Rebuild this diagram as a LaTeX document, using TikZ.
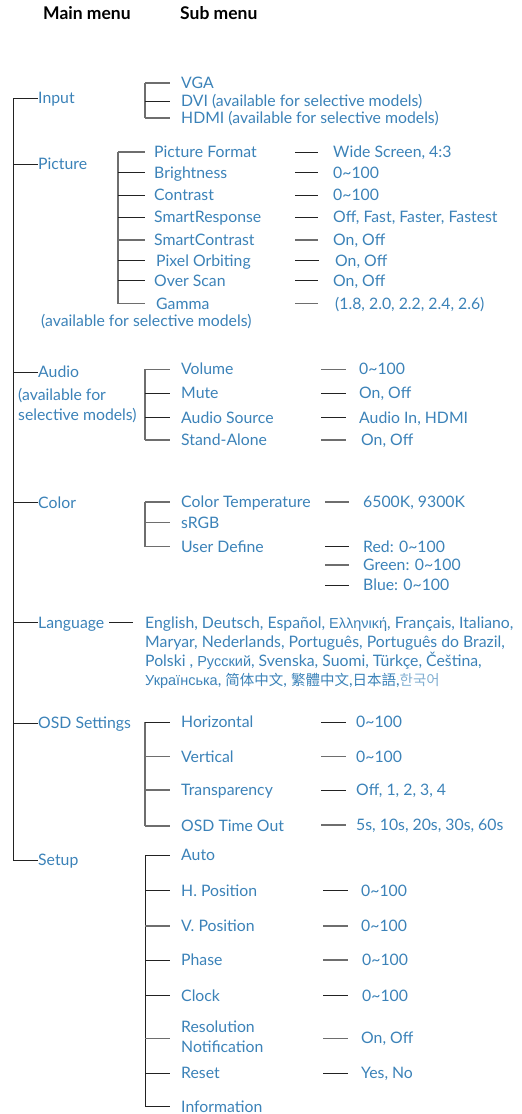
\documentclass[tikz,border=0pt]{standalone}
\usepackage{fontspec}
\setmainfont{Lato}
\newfontfamily\cyr{Liberation Sans}
\newfontfamily\zh{Noto Sans CJK SC}
\newfontfamily\ko{Noto Sans CJK KR}
\usetikzlibrary{calc}
\definecolor{tb}{HTML}{3B82B8}
\definecolor{dk}{HTML}{222222}
\definecolor{gr}{HTML}{6E6E6E}
\newcommand\oth[1]{{\cyr\fontsize{14.5}{16}\selectfont #1}}
\newcommand\cjk[1]{{\zh\fontsize{14.5}{16}\selectfont #1}}
\begin{document}
\begin{tikzpicture}[x=1pt,y=-1pt,
  t/.style={anchor=west, inner sep=0pt, text height=11.3pt, text depth=0pt, font=\fontsize{15.8}{18}\selectfont, text=tb},
  t2/.style={anchor=west, inner sep=0pt, align=left, font=\fontsize{15.8}{20}\selectfont, text=tb},
  hd/.style={anchor=west, inner sep=0pt, text height=12pt, text depth=0pt, font=\fontsize{17.5}{19}\selectfont\bfseries, text=black},
  ln/.style={draw=dk, line width=0.9pt},
  lg/.style={draw=gr, line width=1.1pt}]
\useasboundingbox (0,0) rectangle (522,1114);

% headers
\node[hd] (hmain) at (43,13) {Main menu};
\node[hd] (hsub) at (180,13) {Sub menu};

% main menu
\node[t] (input) at (38,98) {Input};
\node[t] (picture) at (38,164) {Picture};
\node[t] (picnote) at (41,321) {(available for selective models)};
\node[t] (audio) at (38,372) {Audio};
\node[t] (audnote1) at (18,395) {(available for};
\node[t] (audnote2) at (18,415) {selective models)};
\node[t] (color) at (38,502.5) {Color};
\node[t] (language) at (38,622.5) {Language};
\node[t] (osd) at (38,723) {OSD Settings};
\node[t] (setup) at (38,860) {Setup};

\coordinate (m) at (13,98);
\draw[ln] (m |- input.west) -- (m |- setup.west) -- (setup.west);
\foreach \n in {input,picture,audio,color,language,osd}
  \draw[ln] (m |- \n.west) -- (\n.west);

% ---------- Input
\coordinate (bI) at (145,0);
\node[t] (vga) at (181,83) {VGA};
\node[t] (dvi) at (181,101) {DVI (available for selective models)};
\node[t] (hdmi) at (181,118) {HDMI (available for selective models)};
\draw[lg] (bI |- vga.west) -- (bI |- hdmi.west);
\draw[lg,shorten >=11pt] (bI |- vga.west) -- (vga.west);
\draw[ln,shorten >=11pt] (bI |- dvi.west) -- (dvi.west);
\draw[lg,shorten >=11pt] (bI |- hdmi.west) -- (hdmi.west);

% ---------- Picture
\coordinate (bP) at (118,0);
\coordinate (vP) at (295,0);
\node[t] (pf) at (154,152) {Picture Format};
\node[t] (br) at (154,172.7) {Brightness};
\node[t] (co) at (154,195) {Contrast};
\node[t] (sr) at (154,217.3) {SmartResponse};
\node[t] (sc) at (154,240) {SmartContrast};
\node[t] (po) at (156,260.7) {Pixel Orbiting};
\node[t] (os) at (154,280.7) {Over Scan};
\node[t] (ga) at (156,303.7) {Gamma};
\node[t] (pfv) at (333,152) {Wide Screen, 4:3};
\node[t] (brv) at (333,172.7) {0\char"007E 100};
\node[t] (cov) at (333,195) {0\char"007E 100};
\node[t] (srv) at (333,217.3) {Off, Fast, Faster, Fastest};
\node[t] (scv) at (333,240) {On, Off};
\node[t] (pov) at (335,260.7) {On, Off};
\node[t] (osv) at (333,280.7) {On, Off};
\node[t] (gav) at (335,303.7) {(1.8, 2.0, 2.2, 2.4, 2.6)};
\draw[lg] (bP |- pf.west) -- (bP |- ga.west);
\draw[lg,shorten >=9pt] (bP |- pf.west) -- (pf.west);
\draw[ln,shorten >=9pt] (bP |- br.west) -- (br.west);
\draw[ln,shorten >=9pt] (bP |- co.west) -- (co.west);
\draw[ln,shorten >=9pt] (bP |- sr.west) -- (sr.west);
\draw[lg,shorten >=9pt] (bP |- sc.west) -- (sc.west);
\draw[ln,shorten >=11pt] (bP |- po.west) -- (po.west);
\draw[ln,shorten >=9pt] (bP |- os.west) -- (os.west);
\draw[lg,shorten >=11pt] (bP |- ga.west) -- (ga.west);
\draw[ln,shorten >=15pt] (vP |- pfv.west) -- (pfv.west);
\draw[ln,shorten >=15pt] (vP |- brv.west) -- (brv.west);
\draw[ln,shorten >=15pt] (vP |- cov.west) -- (cov.west);
\draw[ln,shorten >=15pt] (vP |- srv.west) -- (srv.west);
\draw[lg,shorten >=15pt] (vP |- scv.west) -- (scv.west);
\draw[ln,shorten >=16pt] (vP |- pov.west) -- (pov.west);
\draw[ln,shorten >=15pt] (vP |- osv.west) -- (osv.west);
\draw[lg,shorten >=17pt] (vP |- gav.west) -- (gav.west);

% ---------- Audio
\coordinate (bA) at (145,0);
\coordinate (vA) at (321,0);
\node[t] (vol) at (181,369.3) {Volume};
\node[t] (mute) at (181,393.3) {Mute};
\node[t] (asrc) at (181,417.7) {Audio Source};
\node[t] (sa) at (181,440) {Stand-Alone};
\node[t] (volv) at (359,369.3) {0\char"007E 100};
\node[t] (mutev) at (359,393.3) {On, Off};
\node[t] (asrcv) at (359,417.7) {Audio In, HDMI};
\node[t] (sav) at (361,440) {On, Off};
\draw[lg] (bA |- vol.west) -- (bA |- sa.west);
\draw[lg,shorten >=11pt] (bA |- vol.west) -- (vol.west);
\draw[ln,shorten >=11pt] (bA |- mute.west) -- (mute.west);
\draw[ln,shorten >=11pt] (bA |- asrc.west) -- (asrc.west);
\draw[lg,shorten >=11pt] (bA |- sa.west) -- (sa.west);
\draw[lg,shorten >=13pt] (vA |- volv.west) -- (volv.west);
\draw[ln,shorten >=13pt] (vA |- mutev.west) -- (mutev.west);
\draw[ln,shorten >=13pt] (vA |- asrcv.west) -- (asrcv.west);
\draw[lg,shorten >=15pt] (vA |- sav.west) -- (sav.west);

% ---------- Color
\coordinate (bC) at (145,0);
\coordinate (vC) at (325,0);
\node[t] (ct) at (181,502) {Color Temperature};
\node[t] (srgb) at (181,522.7) {sRGB};
\node[t] (ud) at (181,546.7) {User Define};
\node[t] (ctv) at (363,502) {6500K, 9300K};
\node[t] (red) at (363,546.7) {Red: 0\char"007E 100};
\node[t] (green) at (363,565) {Green: 0\char"007E 100};
\node[t] (blue) at (363,585) {Blue: 0\char"007E 100};
\draw[lg] (bC |- ct.west) -- (bC |- ud.west);
\draw[lg,shorten >=11pt] (bC |- ct.west) -- (ct.west);
\draw[lg,shorten >=11pt] (bC |- srgb.west) -- (srgb.west);
\draw[lg,shorten >=11pt] (bC |- ud.west) -- (ud.west);
\draw[lg,shorten >=14pt] (vC |- ctv.west) -- (ctv.west);
\draw[ln,shorten >=14pt] (vC |- red.west) -- (red.west);
\draw[lg,shorten >=14pt] (vC |- green.west) -- (green.west);
\draw[ln,shorten >=14pt] (vC |- blue.west) -- (blue.west);

% ---------- Language
\coordinate (vL) at (109,0);
\node[t] (lang1) at (145,622.7) {English, Deutsch, Español, \oth{Ελληνική}, Français, Italiano,};
\node[t] (lang2) at (145,641.7) {Maryar, Nederlands, Português, Português do Brazil,};
\node[t] (lang3) at (145,661) {Polski , \oth{Русский}, Svenska, Suomi, Türkçe, Čeština,};
\node[t] (lang4) at (145,680) {\oth{Українська}, \cjk{简体中文}, \cjk{繁體中文},\cjk{日本語},{\ko\fontsize{14.5}{16}\selectfont\color{tb!65}한국어}};
\draw[ln,shorten >=12pt] (vL |- lang1.west) -- (lang1.west);

% ---------- OSD Settings
\coordinate (bO) at (145,0);
\coordinate (vO) at (321,0);
\node[t] (hor) at (181,722) {Horizontal};
\node[t] (ver) at (181,756.7) {Vertical};
\node[t] (tr) at (181,790) {Transparency};
\node[t] (to) at (181,826) {OSD Time Out};
\node[t] (horv) at (356,722) {0\char"007E 100};
\node[t] (verv) at (356,756.7) {0\char"007E 100};
\node[t] (trv) at (356,790) {Off, 1, 2, 3, 4};
\node[t] (tov) at (356,825) {5s, 10s, 20s, 30s, 60s};
\draw[lg] (bO |- hor.west) -- (bO |- to.west);
\draw[ln,shorten >=11pt] (bO |- hor.west) -- (hor.west);
\draw[lg,shorten >=11pt] (bO |- ver.west) -- (ver.west);
\draw[lg,shorten >=11pt] (bO |- tr.west) -- (tr.west);
\draw[lg,shorten >=11pt] (bO |- to.west) -- (to.west);
\draw[ln,shorten >=10pt] (vO |- horv.west) -- (horv.west);
\draw[lg,shorten >=10pt] (vO |- verv.west) -- (verv.west);
\draw[ln,shorten >=10pt] (vO |- trv.west) -- (trv.west);
\draw[lg,shorten >=10pt] (vO |- tov.west) -- (tov.west);

% ---------- Setup
\coordinate (bS) at (145,0);
\coordinate (vS) at (323,0);
\node[t] (auto) at (181,855) {Auto};
\node[t] (hp) at (181,890.7) {H. Position};
\node[t] (vp) at (181,926) {V. Position};
\node[t] (ph) at (181,960) {Phase};
\node[t] (cl) at (181,995.7) {Clock};
\node[t2] (res) at (181,1036.5) {Resolution\\Notification};
\node[t] (rst) at (181,1073.3) {Reset};
\node[t] (info) at (181,1106.8) {Information};
\node[t] (hpv) at (361,890.7) {0\char"007E 100};
\node[t] (vpv) at (361,926) {0\char"007E 100};
\node[t] (phv) at (362,960) {0\char"007E 100};
\node[t] (clv) at (362,995.7) {0\char"007E 100};
\node[t] (resv) at (361,1038.3) {On, Off};
\node[t] (rstv) at (361,1073.3) {Yes, No};
\draw[ln] (bS |- auto.west) -- (bS |- info.west);
\draw[ln,shorten >=11pt] (bS |- auto.west) -- (auto.west);
\draw[ln,shorten >=11pt] (bS |- hp.west) -- (hp.west);
\draw[lg,shorten >=11pt] (bS |- vp.west) -- (vp.west);
\draw[ln,shorten >=11pt] (bS |- ph.west) -- (ph.west);
\draw[ln,shorten >=11pt] (bS |- cl.west) -- (cl.west);
\draw[lg,shorten >=11pt] (bS |- resv.west) -- (res.west |- resv.west);
\draw[ln,shorten >=11pt] (bS |- rst.west) -- (rst.west);
\draw[ln,shorten >=11pt] (bS |- info.west) -- (info.west);
\draw[ln,shorten >=13pt] (vS |- hpv.west) -- (hpv.west);
\draw[lg,shorten >=13pt] (vS |- vpv.west) -- (vpv.west);
\draw[lg,shorten >=14pt] (vS |- phv.west) -- (phv.west);
\draw[ln,shorten >=14pt] (vS |- clv.west) -- (clv.west);
\draw[lg,shorten >=13pt] (vS |- resv.west) -- (resv.west);
\draw[ln,shorten >=13pt] (vS |- rstv.west) -- (rstv.west);
\end{tikzpicture}
\end{document}
